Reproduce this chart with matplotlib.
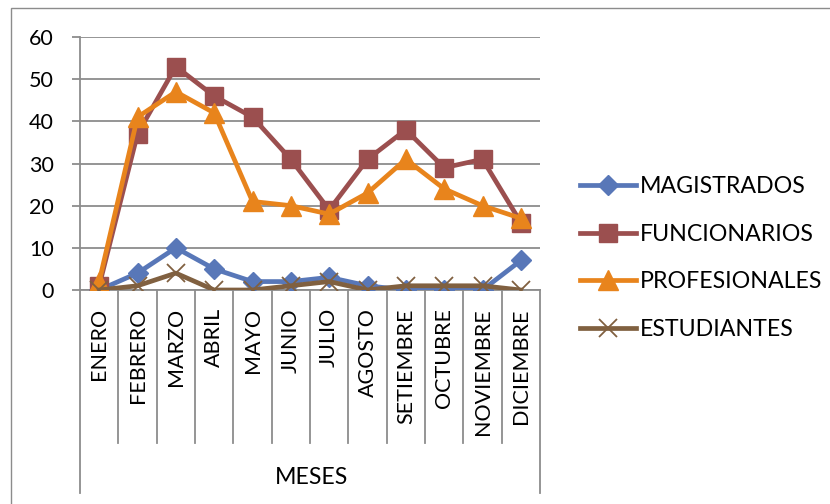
import matplotlib
matplotlib.use("Agg")
import matplotlib.pyplot as plt
import matplotlib.transforms as mtransforms
from matplotlib.patches import Rectangle

# datos
meses = ["ENERO", "FEBRERO", "MARZO", "ABRIL", "MAYO", "JUNIO", "JULIO",
         "AGOSTO", "SETIEMBRE", "OCTUBRE", "NOVIEMBRE", "DICIEMBRE"]
magistrados = [0, 4, 10, 5, 2, 2, 3, 1, 0, 0, 0, 7]
funcionarios = [1, 37, 53, 46, 41, 31, 19, 31, 38, 29, 31, 16]
profesionales = [2, 41, 47, 42, 21, 20, 18, 23, 31, 24, 20, 17]
estudiantes = [0, 1, 4, 0, 0, 1, 2, 0, 1, 1, 1, 0]

plt.rcParams['font.family'] = ['Lato', 'DejaVu Sans']
gris = '#8c8c8c'

fig = plt.figure(figsize=(8.3, 5.04), dpi=100)
ax = fig.add_axes([80/830, 1 - 290/504, 460/830, 253/504])

x = list(range(len(meses)))
ax.plot(x, magistrados, color='#5877B8', lw=3.4, marker='D', ms=10.5,
        label='MAGISTRADOS', zorder=3)
ax.plot(x, funcionarios, color='#9B4F4F', lw=3.4, marker='s', ms=13,
        label='FUNCIONARIOS', zorder=4)
ax.plot(x, profesionales, color='#E8841C', lw=3.4, marker='^', ms=14.5,
        label='PROFESIONALES', zorder=5)
ax.plot(x, estudiantes, color='#806040', lw=3.4, marker='x', ms=13,
        mew=1.3, label='ESTUDIANTES', zorder=6)

ax.set_xlim(-0.5, len(meses) - 0.5)
ax.set_ylim(0, 60)
ax.set_yticks(range(0, 61, 10))
ax.grid(axis='y', color=gris, lw=1.3)
ax.set_axisbelow(True)
for s in ['top', 'right']:
    ax.spines[s].set_visible(False)
ax.spines['left'].set_color(gris)
ax.spines['bottom'].set_color(gris)
ax.spines['left'].set_linewidth(1.3)
ax.spines['bottom'].set_linewidth(1.3)
ax.tick_params(axis='y', length=6, color=gris, width=1.3, labelsize=15.5, pad=13)
ax.set_xticks(x)
ax.set_xticklabels(meses, rotation=90, fontsize=15.5, va='top')
ax.tick_params(axis='x', length=0, pad=13)

# separadores de categorias (eje de varios niveles)
trans = mtransforms.blended_transform_factory(ax.transData, fig.transFigure)
for i in range(len(meses) + 1):
    b = i - 0.5
    y_fin = 1 - 493/504 if i in (0, len(meses)) else 1 - 443/504
    ax.plot([b, b], [1 - 290/504, y_fin], transform=trans, color=gris,
            lw=1.3, clip_on=False)
fig.text(311/830, 1 - 478/504, "MESES", ha='center', va='center', fontsize=16.7)

fig.legend(loc='center left', bbox_to_anchor=(580/830, 1 - 258/504),
           frameon=False, fontsize=16.7, handlelength=2.4, labelspacing=1.15,
           handletextpad=0.2, borderpad=0, borderaxespad=0)

fig.patches.append(Rectangle((11/830, -0.2), 2, 1.2 - 8/504,
                             transform=fig.transFigure, fill=False,
                             edgecolor=gris, lw=1.0))

fig.savefig("out.png", dpi=100)
